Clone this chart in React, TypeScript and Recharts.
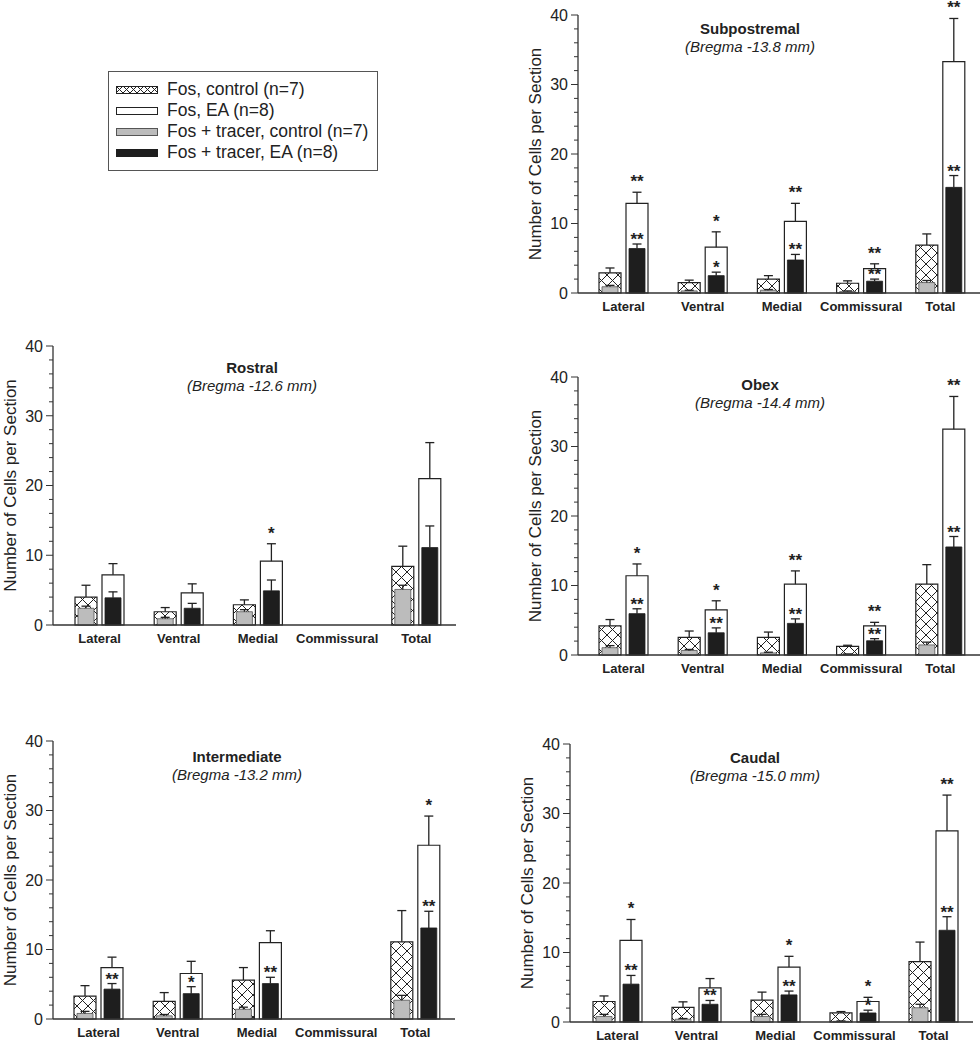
import React from "react";
import { BarChart, Bar, XAxis, YAxis, LabelList, Label, Rectangle } from "recharts";

const categories = ["Lateral", "Ventral", "Medial", "Commissural", "Total"];
const yTicks = [0, 2, 4, 6, 8, 10, 12, 14, 16, 18, 20, 22, 24, 26, 28, 30, 32, 34, 36, 38, 40];

const legendLabels = [
  "Fos, control (n=7)",
  "Fos, EA (n=8)",
  "Fos + tracer, control (n=7)",
  "Fos + tracer, EA (n=8)",
];

// Subpostremal (Bregma -13.8 mm)
const subCtl = [2.9, 1.5, 2.0, 1.4, 6.9];
const subCtlErr = [0.7, 0.35, 0.5, 0.35, 1.6];
const subTrCtl = [0.9, 0.3, 0.4, 0.2, 1.5];
const subTrCtlErr = [0.2, 0.1, 0.1, 0.1, 0.3];
const subEa = [12.9, 6.6, 10.3, 3.5, 33.3];
const subEaErr = [1.6, 2.2, 2.6, 0.7, 6.2];
const subTrEa = [6.4, 2.5, 4.75, 1.7, 15.2];
const subTrEaErr = [0.65, 0.5, 0.8, 0.3, 1.7];
const subEaStars = ["**", "*", "**", "**", "**"];
const subTrEaStars = ["**", "*", "**", "**", "**"];

// Rostral (Bregma -12.6 mm)
const rosCtl = [4.0, 1.9, 2.9, null, 8.4];
const rosCtlErr = [1.7, 0.6, 0.7, null, 2.9];
const rosTrCtl = [2.4, 0.9, 1.9, null, 5.1];
const rosTrCtlErr = [0.3, 0.2, 0.3, null, 0.6];
const rosEa = [7.2, 4.6, 9.15, null, 21.0];
const rosEaErr = [1.6, 1.3, 2.5, null, 5.15];
const rosTrEa = [3.9, 2.4, 4.9, null, 11.1];
const rosTrEaErr = [0.85, 0.7, 1.55, null, 3.1];
const rosEaStars = ["", "", "*", "", ""];
const rosTrEaStars = ["", "", "", "", ""];

// Obex (Bregma -14.4 mm)
const obxCtl = [4.2, 2.55, 2.55, 1.25, 10.2];
const obxCtlErr = [0.9, 0.9, 0.75, 0.15, 2.8];
const obxTrCtl = [1.05, 0.65, 0.3, 0.1, 1.45];
const obxTrCtlErr = [0.3, 0.15, 0.1, 0.05, 0.4];
const obxEa = [11.4, 6.5, 10.2, 4.2, 32.5];
const obxEaErr = [1.7, 1.3, 1.9, 0.5, 4.7];
const obxTrEa = [5.95, 3.2, 4.55, 2.05, 15.55];
const obxTrEaErr = [0.7, 0.7, 0.65, 0.3, 1.5];
const obxEaStars = ["*", "*", "**", "**", "**"];
const obxTrEaStars = ["**", "**", "**", "**", "**"];

// Intermediate (Bregma -13.2 mm)
const intCtl = [3.3, 2.55, 5.6, null, 11.1];
const intCtlErr = [1.5, 1.25, 1.8, null, 4.5];
const intTrCtl = [0.8, 0.45, 1.4, null, 2.7];
const intTrCtlErr = [0.3, 0.2, 0.3, null, 0.7];
const intEa = [7.4, 6.55, 11.0, null, 25.0];
const intEaErr = [1.5, 1.75, 1.7, null, 4.2];
const intTrEa = [4.3, 3.65, 5.1, null, 13.1];
const intTrEaErr = [0.8, 1.0, 0.9, null, 2.4];
const intEaStars = ["", "", "", "", "*"];
const intTrEaStars = ["**", "*", "**", "", "**"];

// Caudal (Bregma -15.0 mm)
const cauCtl = [2.95, 2.1, 3.15, 1.3, 8.7];
const cauCtlErr = [0.8, 0.8, 1.15, 0.2, 2.8];
const cauTrCtl = [0.8, 0.4, 0.8, 0.1, 2.05];
const cauTrCtlErr = [0.3, 0.1, 0.3, 0.05, 0.5];
const cauEa = [11.75, 4.9, 7.9, 2.95, 27.5];
const cauEaErr = [3.0, 1.35, 1.55, 0.6, 5.15];
const cauTrEa = [5.45, 2.55, 3.9, 1.3, 13.2];
const cauTrEaErr = [1.25, 0.55, 0.55, 0.4, 1.95];
const cauEaStars = ["*", "", "*", "*", "**"];
const cauTrEaStars = ["**", "**", "**", "*", "**"];

const FONT = '"Liberation Sans", Arial, Helvetica, sans-serif';
const INK = "#222";

type Num = number | null;

function makeRows(
  ctl: Num[], ctlErr: Num[], trCtl: Num[], trCtlErr: Num[],
  ea: Num[], eaErr: Num[], trEa: Num[], trEaErr: Num[],
  eaStars: string[], trEaStars: string[]
) {
  return categories.map((name, i) => ({
    name,
    ctl: ctl[i] ?? 0,
    ctlErr: ctlErr[i] ?? 0,
    trCtl: trCtl[i] ?? 0,
    trCtlErr: trCtlErr[i] ?? 0,
    ea: ea[i] ?? 0,
    eaErr: eaErr[i] ?? 0,
    trEa: trEa[i] ?? 0,
    trEaErr: trEaErr[i] ?? 0,
    eaStar: eaStars[i],
    trEaStar: trEaStars[i],
  }));
}

const whisker = (props: any) => {
  const { x, y, width, height } = props;
  if (!height || height <= 0) return <g />;
  const cx = x + width / 2;
  return (
    <g>
      <line x1={cx} x2={cx} y1={y + height} y2={y} stroke={INK} strokeWidth={1.3} />
      <line x1={cx - 4.5} x2={cx + 4.5} y1={y} y2={y} stroke={INK} strokeWidth={1.3} />
    </g>
  );
};

// inner (tracer) bars sit inside the outer Fos bars, a little narrower
const insetBar = (props: any) => {
  const { x, y, width, height, fill, stroke, strokeWidth } = props;
  if (!height || height <= 0) return <g />;
  return (
    <Rectangle x={x + 3} y={y} width={width - 6} height={height} fill={fill} stroke={stroke} strokeWidth={strokeWidth} />
  );
};

const YTick = (props: any) => {
  const { x, y, payload } = props;
  const major = payload.value % 10 === 0;
  return (
    <g>
      <line x1={x - (major ? 7 : 4)} x2={x} y1={y} y2={y} stroke="#333" strokeWidth={1} />
      {major && (
        <text x={x - 10} y={y} dy="0.36em" textAnchor="end" fontSize={16} fill={INK} fontFamily={FONT}>
          {payload.value}
        </text>
      )}
    </g>
  );
};

interface PanelProps {
  id: string;
  rows: ReturnType<typeof makeRows>;
  left: number;
  top: number;
  width: number;
  height: number;
  axisWidth: number;
  marginTop: number;
  padLeft: number;
  title: string;
  subtitle: string;
  titleX: number;
  titleY: number;
}

const Panel: React.FC<PanelProps> = (p) => {
  const starStyle = { fontSize: 17, fontWeight: "bold" as const, fill: INK, fontFamily: FONT };
  return (
    <>
      <div style={{ position: "absolute", left: p.left, top: p.top, width: p.width, height: p.height }}>
        <BarChart
          width={p.width}
          height={p.height}
          data={p.rows}
          margin={{ top: p.marginTop, right: 0, left: 0, bottom: 0 }}
          barGap={5}
        >
          <defs>
            <pattern id={`hatch-${p.id}`} patternUnits="userSpaceOnUse" width={11} height={11}>
              <rect width={11} height={11} fill="#fff" />
              <path d="M-1,-1 L12,12 M12,-1 L-1,12" stroke={INK} strokeWidth={1} />
            </pattern>
          </defs>
          <XAxis xAxisId="in" dataKey="name" hide height={0} padding={{ left: p.padLeft, right: 0 }} />
          <XAxis
            xAxisId="out"
            dataKey="name"
            interval={0}
            padding={{ left: p.padLeft, right: 0 }}
            tickLine={false}
            tickSize={0}
            tickMargin={9}
            height={30}
            axisLine={{ stroke: "#333", strokeWidth: 1.3 }}
            tick={{ fontSize: 13, fontWeight: "bold", fill: INK, fontFamily: FONT }}
          />
          <YAxis
            domain={[0, 40]}
            ticks={yTicks}
            interval={0}
            width={p.axisWidth}
            tickSize={0}
            tickMargin={0}
            tickLine={false}
            axisLine={{ stroke: "#333", strokeWidth: 1.3 }}
            tick={<YTick />}
          >
            <Label
              content={(lp: any) => {
                const vb = lp.viewBox;
                const cx = vb.x + vb.width - 43;
                const cy = vb.y + vb.height / 2;
                return (
                  <text
                    x={cx}
                    y={cy}
                    transform={`rotate(-90, ${cx}, ${cy})`}
                    textAnchor="middle"
                    dominantBaseline="central"
                    fontSize={17}
                    fill={INK}
                    fontFamily={FONT}
                  >
                    Number of Cells per Section
                  </text>
                );
              }}
            />
          </YAxis>

          <Bar xAxisId="out" dataKey="ctl" stackId="c" barSize={22} fill={`url(#hatch-${p.id})`} stroke={INK} strokeWidth={1.2} isAnimationActive={false} />
          <Bar xAxisId="out" dataKey="ctlErr" stackId="c" barSize={22} shape={whisker} isAnimationActive={false} />
          <Bar xAxisId="out" dataKey="ea" stackId="e" barSize={22} fill="#fff" stroke={INK} strokeWidth={1.2} isAnimationActive={false} />
          <Bar xAxisId="out" dataKey="eaErr" stackId="e" barSize={22} shape={whisker} isAnimationActive={false}>
            <LabelList dataKey="eaStar" position="top" offset={5} {...starStyle} />
          </Bar>

          <Bar xAxisId="in" dataKey="trCtl" stackId="g" barSize={22} fill="#bcbcbc" stroke="#555" strokeWidth={0.8} shape={insetBar} isAnimationActive={false} />
          <Bar xAxisId="in" dataKey="trCtlErr" stackId="g" barSize={22} shape={whisker} isAnimationActive={false} />
          <Bar xAxisId="in" dataKey="trEa" stackId="b" barSize={22} fill="#1e1e1e" stroke="#1e1e1e" strokeWidth={0.8} shape={insetBar} isAnimationActive={false} />
          <Bar xAxisId="in" dataKey="trEaErr" stackId="b" barSize={22} shape={whisker} isAnimationActive={false}>
            <LabelList dataKey="trEaStar" position="top" offset={-1} {...starStyle} />
          </Bar>
        </BarChart>
      </div>
      <div
        style={{
          position: "absolute",
          left: p.titleX,
          top: p.titleY,
          transform: "translate(-50%, -50%)",
          whiteSpace: "nowrap",
          fontFamily: FONT,
          fontSize: 15,
          fontWeight: "bold",
          color: INK,
          lineHeight: 1,
        }}
      >
        {p.title}
      </div>
      <div
        style={{
          position: "absolute",
          left: p.titleX,
          top: p.titleY + 18,
          transform: "translate(-50%, -50%)",
          whiteSpace: "nowrap",
          fontFamily: FONT,
          fontSize: 15,
          fontStyle: "italic",
          color: INK,
          lineHeight: 1,
        }}
      >
        {p.subtitle}
      </div>
    </>
  );
};

const LegendBox: React.FC = () => {
  const swatches = [
    { fill: "url(#hatch-legend)", stroke: INK },
    { fill: "#fff", stroke: INK },
    { fill: "#bcbcbc", stroke: "#555" },
    { fill: "#1e1e1e", stroke: "#1e1e1e" },
  ];
  return (
    <div
      style={{
        position: "absolute",
        left: 108,
        top: 71,
        width: 270,
        height: 100,
        border: "1px solid #555",
        boxSizing: "border-box",
        fontFamily: FONT,
        fontSize: 17.5,
        color: INK,
      }}
    >
      <svg width={0} height={0} style={{ position: "absolute" }}>
        <defs>
          <pattern id="hatch-legend" patternUnits="userSpaceOnUse" width={7} height={7}>
            <rect width={7} height={7} fill="#fff" />
            <path d="M-1,-1 L8,8 M8,-1 L-1,8" stroke={INK} strokeWidth={1} />
          </pattern>
        </defs>
      </svg>
      {legendLabels.map((label, i) => (
        <div
          key={label}
          style={{
            position: "absolute",
            left: 0,
            top: 7 + i * 21,
            height: 21,
            display: "flex",
            alignItems: "center",
            whiteSpace: "nowrap",
          }}
        >
          <svg width={42} height={8} style={{ marginLeft: 7, marginRight: 9 }}>
            <rect x={0.5} y={0.5} width={41} height={7} fill={swatches[i].fill} stroke={swatches[i].stroke} strokeWidth={1} />
          </svg>
          <span>{label}</span>
        </div>
      ))}
    </div>
  );
};

export default function App() {
  const sub = makeRows(subCtl, subCtlErr, subTrCtl, subTrCtlErr, subEa, subEaErr, subTrEa, subTrEaErr, subEaStars, subTrEaStars);
  const ros = makeRows(rosCtl, rosCtlErr, rosTrCtl, rosTrCtlErr, rosEa, rosEaErr, rosTrEa, rosTrEaErr, rosEaStars, rosTrEaStars);
  const obx = makeRows(obxCtl, obxCtlErr, obxTrCtl, obxTrCtlErr, obxEa, obxEaErr, obxTrEa, obxTrEaErr, obxEaStars, obxTrEaStars);
  const int = makeRows(intCtl, intCtlErr, intTrCtl, intTrCtlErr, intEa, intEaErr, intTrEa, intTrEaErr, intEaStars, intTrEaStars);
  const cau = makeRows(cauCtl, cauCtlErr, cauTrCtl, cauTrCtlErr, cauEa, cauEaErr, cauTrEa, cauTrEaErr, cauEaStars, cauTrEaStars);

  return (
    <div
      style={{
        position: "absolute",
        left: 0,
        top: 0,
        width: 980,
        height: 1042,
        overflow: "hidden",
        background: "#fff",
        fontFamily: FONT,
      }}
    >
      <LegendBox />
      <Panel id="sub" rows={sub} left={508} top={0} width={472} height={323} axisWidth={70} marginTop={15} padLeft={6}
        title="Subpostremal" subtitle="(Bregma -13.8 mm)" titleX={750} titleY={28} />
      <Panel id="ros" rows={ros} left={0} top={330} width={456} height={325} axisWidth={53} marginTop={16} padLeft={7}
        title="Rostral" subtitle="(Bregma -12.6 mm)" titleX={252} titleY={367} />
      <Panel id="obx" rows={obx} left={508} top={360} width={472} height={325} axisWidth={70} marginTop={17} padLeft={6}
        title="Obex" subtitle="(Bregma -14.4 mm)" titleX={760} titleY={384} />
      <Panel id="int" rows={int} left={0} top={720} width={455} height={329} axisWidth={53} marginTop={21} padLeft={6}
        title="Intermediate" subtitle="(Bregma -13.2 mm)" titleX={237} titleY={756} />
      <Panel id="cau" rows={cau} left={500} top={725} width={473} height={327} axisWidth={70} marginTop={19} padLeft={8}
        title="Caudal" subtitle="(Bregma -15.0 mm)" titleX={755} titleY={757} />
    </div>
  );
}
